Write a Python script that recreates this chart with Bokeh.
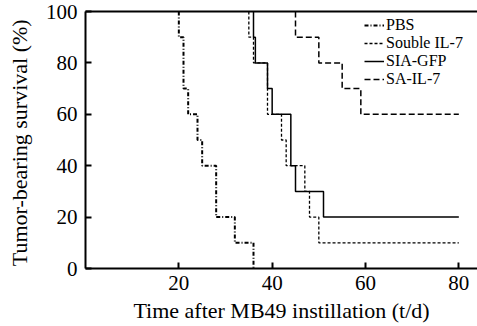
from bokeh.plotting import figure
from bokeh.models import LinearAxis, FixedTicker, Legend, LegendItem, Range1d
from bokeh.embed import file_html
from bokeh.resources import INLINE

# Kaplan-Meier style survival steps (day, % surviving after that day)
pbs_t = [20, 20, 21, 22, 24, 25, 28, 32, 36]
pbs_s = [100, 90, 70, 60, 50, 40, 20, 10, 0]

sol_t = [35, 35, 36, 39, 42, 43, 47, 48, 50, 80]
sol_s = [100, 90, 80, 60, 50, 40, 30, 20, 10, 10]

sia_t = [36, 36, 36.4, 39, 40, 44, 45, 51, 80]
sia_s = [100, 90, 80, 70, 60, 40, 30, 20, 20]

sa_t = [45, 45, 50, 55, 59, 80]
sa_s = [100, 90, 80, 70, 60, 60]

x_ticks = [20, 40, 60, 80]
y_ticks = [0, 20, 40, 60, 80, 100]

FONT = "Liberation Serif"

p = figure(width=477, height=326, output_backend="svg", toolbar_location=None,
           x_range=Range1d(0, 84), y_range=Range1d(0, 100),
           min_border_left=85, min_border_right=0, min_border_top=11, min_border_bottom=58)
p.outline_line_color = None
p.grid.visible = False
p.background_fill_color = "white"
p.border_fill_color = "white"

r_pbs = p.step(pbs_t, pbs_s, mode="after", line_color="black", line_width=2, line_dash="4 2 1 2")
r_sol = p.step(sol_t, sol_s, mode="after", line_color="black", line_width=1.3, line_dash="3 2")
r_sia = p.step(sia_t, sia_s, mode="after", line_color="black", line_width=1.5)
r_sa = p.step(sa_t, sa_s, mode="after", line_color="black", line_width=1.5, line_dash="6 3")

for ax, ticks in ((p.xaxis[0], x_ticks), (p.yaxis[0], y_ticks)):
    ax.ticker = FixedTicker(ticks=ticks)
    ax.axis_line_width = 2
    ax.axis_line_color = "black"
    ax.major_tick_in = 6
    ax.major_tick_out = 0
    ax.major_tick_line_width = 2
    ax.major_tick_line_color = "black"
    ax.minor_tick_line_color = None
    ax.major_label_text_font = FONT
    ax.major_label_text_font_size = "21px"
    ax.major_label_text_color = "black"
    ax.axis_label_text_font = FONT
    ax.axis_label_text_font_size = "22px"
    ax.axis_label_text_font_style = "normal"
    ax.axis_label_text_color = "black"

p.xaxis[0].axis_label = "Time after MB49 instillation (t/d)"
p.yaxis[0].axis_label = "Tumor-bearing survival  (%)"
p.xaxis[0].major_label_standoff = 7
p.xaxis[0].axis_label_standoff = 5
p.yaxis[0].major_label_standoff = 8
p.yaxis[0].axis_label_standoff = 11

top = LinearAxis(ticker=FixedTicker(ticks=[]), axis_line_width=2, axis_line_color="black",
                 major_tick_in=0, major_tick_out=0, minor_tick_line_color=None,
                 major_label_text_font_size="0px")
p.add_layout(top, "above")

legend = Legend(items=[
    LegendItem(label="PBS", renderers=[r_pbs]),
    LegendItem(label="Souble IL-7", renderers=[r_sol]),
    LegendItem(label="SIA-GFP", renderers=[r_sia]),
    LegendItem(label="SA-IL-7", renderers=[r_sa]),
], location=(279, 180))
legend.border_line_color = None
legend.background_fill_alpha = 0
legend.padding = 0
legend.margin = 0
legend.spacing = 0
legend.label_height = 16
legend.glyph_height = 16
legend.glyph_width = 20
legend.label_standoff = 2
legend.label_text_font = FONT
legend.label_text_font_size = "16px"
legend.label_text_color = "black"
p.add_layout(legend)

open("out.html", "w").write(file_html(p, INLINE))
